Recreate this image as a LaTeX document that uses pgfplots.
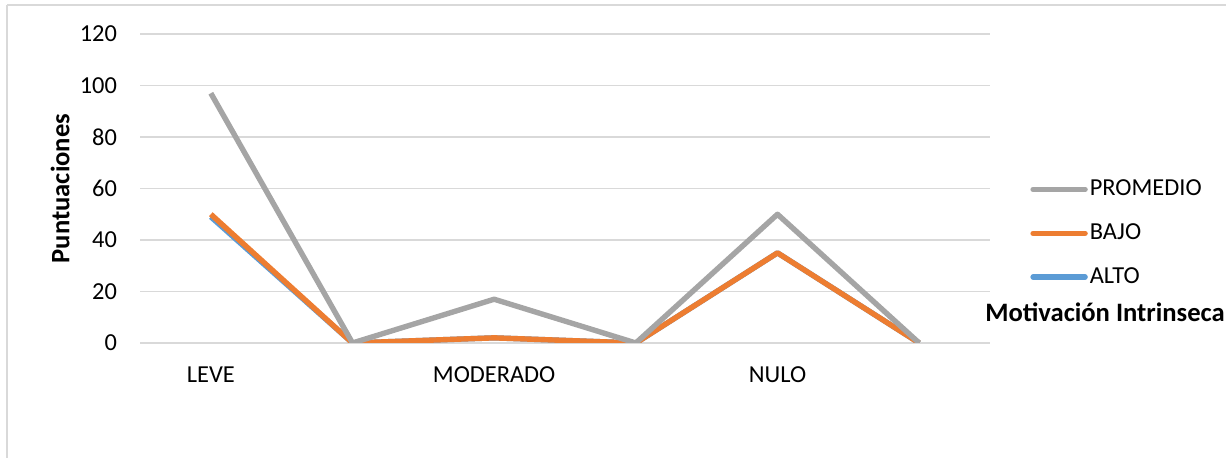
\documentclass[border=0pt]{standalone}
\usepackage{pgfplots}
\pgfplotsset{compat=1.18}
\usepackage{fontspec}
\setmainfont{Carlito}
\definecolor{cgray}{HTML}{A5A5A5}
\definecolor{corange}{HTML}{ED7D31}
\definecolor{cblue}{HTML}{5B9BD5}
\definecolor{cgrid}{HTML}{D9D9D9}
\begin{document}
\begin{tikzpicture}
\path[use as bounding box] (0pt,0pt) rectangle (613pt,-229pt);
\draw[cgrid, line width=0.9pt] (3.5pt,-2.5pt) -- (613pt,-2.5pt);
\draw[cgrid, line width=0.9pt] (3.5pt,-2.5pt) -- (3.5pt,-229pt);
\begin{axis}[
  at={(70pt,-171.5pt)}, anchor=south west,
  scale only axis, width=425pt, height=154.5pt,
  xmin=-0.5, xmax=5.5, ymin=0, ymax=120,
  ytick={0,20,...,120},
  xtick={0,2,4}, xticklabels={LEVE,MODERADO,NULO},
  axis line style={draw=none},
  major tick length=0pt,
  ymajorgrids, grid style={cgrid, line width=0.75pt},
  tick label style={font=\fontsize{12.2}{14}\selectfont, black},
  /pgf/number format/assume math mode=true,
  yticklabel style={xshift=-8pt},
  xticklabel style={yshift=-8.5pt},
  ylabel={Puntuaciones},
  ylabel style={at={(axis description cs:-0.094,0.5)}, anchor=center, font=\fontsize{13.3}{15}\selectfont\bfseries},
  legend style={at={(axis description cs:1.04,0.355)}, anchor=west, draw=none, fill=none,
    font=\fontsize{12.2}{14}\selectfont, row sep=10.5pt, nodes={inner sep=1pt}},
  legend cell align=left,
  reverse legend,
  legend image code/.code={\draw[#1, line cap=round] (0pt,0pt) -- (26pt,0pt);},
]
\addplot[cblue, line width=2.7pt, line join=round] coordinates {(0,49) (1,0) (2,2) (3,0) (4,35) (5,0)};
\addlegendentry{ALTO}
\addplot[corange, line width=2.7pt, line join=round] coordinates {(0,50) (1,0) (2,2) (3,0) (4,35) (5,0)};
\addlegendentry{BAJO}
\addplot[cgray, line width=2.7pt, line join=round] coordinates {(0,97) (1,0) (2,17) (3,0) (4,50) (5,0)};
\addlegendentry{PROMEDIO}
\end{axis}
\node[font=\fontsize{13.3}{15}\selectfont\bfseries] at (552.5pt,-156pt) {Motivación Intrinseca};
\end{tikzpicture}
\end{document}
